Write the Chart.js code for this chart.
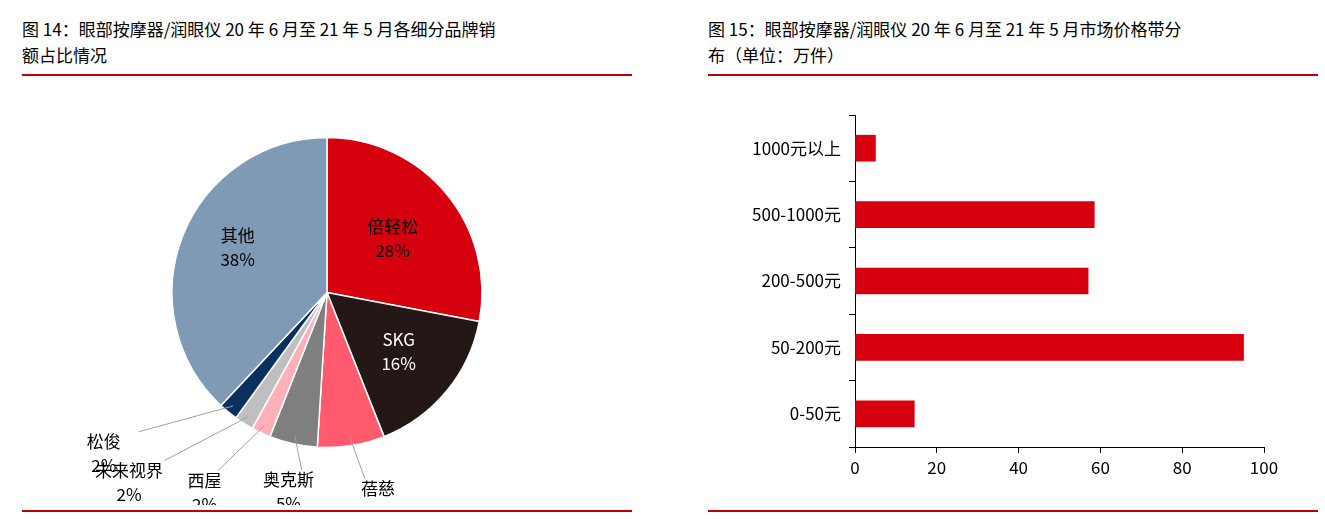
<!DOCTYPE html><html><head><meta charset="utf-8">
<script src="https://cdn.jsdelivr.net/npm/chart.js@4/dist/chart.umd.min.js"></script>
<style>
body{margin:0;width:1325px;height:519px;background:#fff;font-family:"Noto Sans CJK SC",sans-serif;position:relative;overflow:hidden}
.t{position:absolute;font-size:17px;line-height:26px;color:#000;width:615px}
.ln{position:absolute;height:2px;background:#c00000}
.c{position:absolute}
</style></head><body>
<div class="t" style="left:22px;top:16px">图 14：眼部按摩器/润眼仪 20 年 6 月至 21 年 5 月各细分品牌销<br>额占比情况</div>
<div class="t" style="left:708px;top:16px">图 15：眼部按摩器/润眼仪 20 年 6 月至 21 年 5 月市场价格带分<br>布（单位：万件）</div>
<div class="ln" style="left:22px;top:74px;width:610px"></div>
<div class="ln" style="left:708px;top:74px;width:610px"></div>
<div class="ln" style="left:22px;top:510px;width:610px"></div>
<div class="ln" style="left:708px;top:510px;width:610px"></div>
<div class="c" style="left:22px;top:80px;width:610px;height:425px"><canvas id="pie"></canvas></div>
<div class="c" style="left:708px;top:80px;width:610px;height:425px"><canvas id="bar"></canvas></div>
<script>
const brands=["倍轻松","SKG","蓓慈","奥克斯","西屋","未来视界","松俊","其他"];
const shares=[28,16,7,5,2,2,2,38];
const pieColors=["#d7000f","#231815","#ff5a6e","#7f7f7f","#ffb0b8","#bfbfbf","#0a3060","#7f9ab5"];
const priceBands=["1000元以上","500-1000元","200-500元","50-200元","0-50元"];
const volumes=[5,58.5,57,95,14.5];
const xTicks=[0,20,40,60,80,100];
const FONT='"Noto Sans CJK SC",sans-serif';
// label placement: [radius factor, dx, dy, inside, color]
const lab=[[0.55,0,0,true,"#000"],[0.6,0,0,true,"#fff"],[1.28,20,12,false],[1.2,2,18,false],[1.25,-40,25,false],[1.3,-90,20,false],[1.45,-80,-12,false],[0.62,0,-10,true,"#000"]];
const piePlugin={id:'pl',afterDatasetsDraw(ch){
 const ctx=ch.ctx;const meta=ch.getDatasetMeta(0);
 ctx.save();ctx.font='17px '+FONT;ctx.textAlign='center';ctx.textBaseline='middle';
 meta.data.forEach((a,i)=>{
  const m=(a.startAngle+a.endAngle)/2,r=a.outerRadius,L=lab[i];
  let x=a.x+Math.cos(m)*r*L[0]+L[1],y=a.y+Math.sin(m)*r*L[0]+L[2];
  if(!L[3]){
   const ex=a.x+Math.cos(m)*r*0.95,ey=a.y+Math.sin(m)*r*0.95;
   ctx.strokeStyle='#a0a0a0';ctx.lineWidth=1;ctx.beginPath();ctx.moveTo(ex,ey);
   const tx=x+(x<a.x?22:-22)*(i==6||i==5?1.6:0.6), ty=y-22;
   ctx.lineTo(tx,ty);ctx.stroke();
  }
  ctx.fillStyle=L[3]?L[4]:'#000';
  ctx.fillText(brands[i],x,y-12);ctx.fillText(shares[i]+'%',x,y+12);
 });ctx.restore();}};
new Chart(document.getElementById('pie'),{type:'pie',data:{labels:brands,datasets:[{data:shares,backgroundColor:pieColors,borderColor:'#fff',borderWidth:1.5}]},
 options:{responsive:true,maintainAspectRatio:false,animation:false,radius:155,plugins:{legend:{display:false},tooltip:{enabled:false}}},plugins:[piePlugin]});
new Chart(document.getElementById('bar'),{type:'bar',data:{labels:priceBands,datasets:[{data:volumes,backgroundColor:'#d7000f',barThickness:26}]},
 options:{indexAxis:'y',responsive:true,maintainAspectRatio:false,animation:false,
 layout:{padding:{left:0,right:54,top:35,bottom:0}},
 plugins:{legend:{display:false},tooltip:{enabled:false}},
 scales:{
  x:{min:0,max:100,afterFit(s){s.height=58},ticks:{stepSize:20,color:'#000',font:{size:17,family:FONT},padding:4,callback:(v)=>xTicks.includes(v)?v:''},
     grid:{drawOnChartArea:false,tickLength:6,color:'#000'},border:{color:'#000'}},
  y:{afterFit(s){s.width=147},ticks:{color:'#000',font:{size:17,family:FONT},padding:8},
     grid:{offset:true,drawOnChartArea:false,tickLength:6,color:'#000'},border:{color:'#000'}}
 }}});
</script></body></html>
